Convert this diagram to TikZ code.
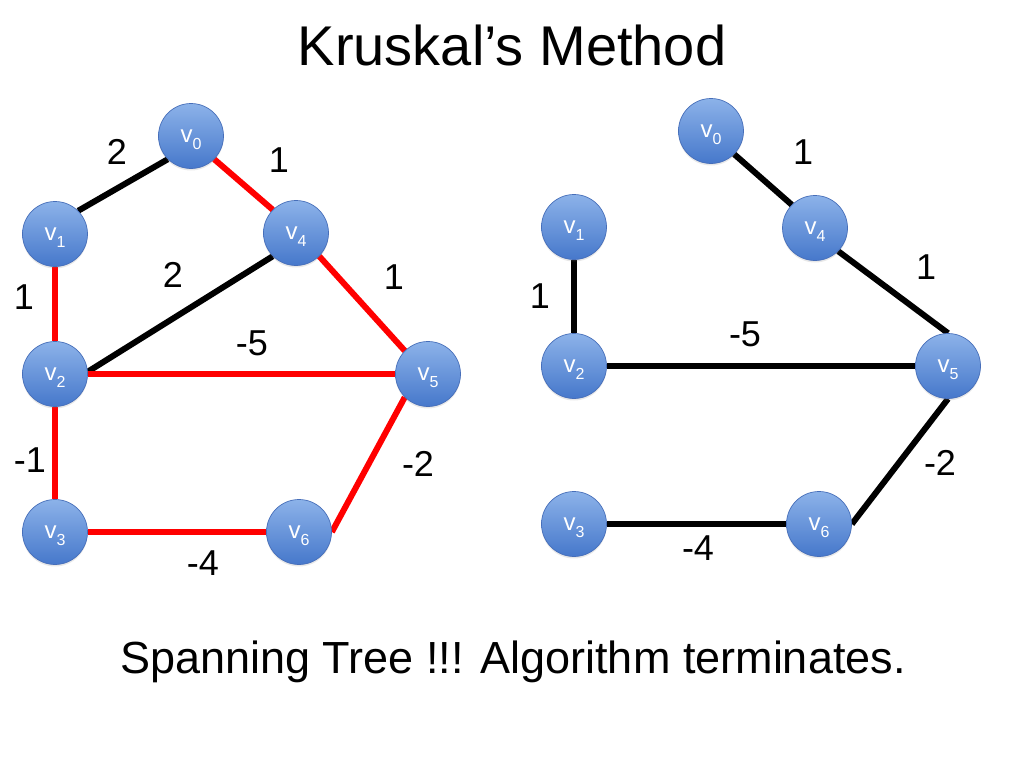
\documentclass[tikz,border=0pt]{standalone}
\usepackage{fontspec}
\setmainfont{Liberation Sans}
\usetikzlibrary{shadows,backgrounds}
\definecolor{nodetop}{RGB}{140,178,233}
\definecolor{nodebot}{RGB}{70,120,203}
\definecolor{nodeline}{RGB}{70,110,185}
\definecolor{edgered}{RGB}{255,0,0}
\newcommand\vsub[1]{v\raisebox{-7pt}{\fontsize{16}{16}\selectfont #1}}
\begin{document}
\begin{tikzpicture}[x=1pt,y=-1pt,
  vtx/.style={circle, minimum size=65pt, inner sep=0pt, draw=nodeline, line width=0.7pt,
    top color=nodetop, bottom color=nodebot, text=white, text depth=0pt,
    font=\fontsize{24}{24}\selectfont,
    drop shadow={opacity=0.18, shadow xshift=0pt, shadow yshift=-2pt}},
  blk/.style={line width=6pt, black},
  rde/.style={line width=6pt, edgered},
  wlab/.style={font=\fontsize{36}{36}\selectfont, inner sep=0pt},
  ttl/.style={font=\fontsize{56}{56}\selectfont, inner sep=0pt, anchor=base},
  captxt/.style={font=\fontsize{45}{45}\selectfont, inner sep=0pt, anchor=base}]
\useasboundingbox (0,0) rectangle (1024,768);

\node[ttl] (title) at (512,65) {Kruskal’s Method};
\node[captxt] (caption) at (513,673) {Spanning Tree !!! Algorithm terminates.};

% left graph
\node[vtx] (L0) at (191,136) {\vsub{0}};
\node[vtx] (L1) at (55,234) {\vsub{1}};
\node[vtx] (L4) at (296,233) {\vsub{4}};
\node[vtx] (L2) at (55,374) {\vsub{2}};
\node[vtx] (L5) at (428,374) {\vsub{5}};
\node[vtx] (L3) at (55,532) {\vsub{3}};
\node[vtx] (L6) at (299,532) {\vsub{6}};

% right graph
\node[vtx] (R0) at (711,131) {\vsub{0}};
\node[vtx] (R1) at (574,227) {\vsub{1}};
\node[vtx] (R4) at (815,228) {\vsub{4}};
\node[vtx] (R2) at (574,366) {\vsub{2}};
\node[vtx] (R5) at (948,366) {\vsub{5}};
\node[vtx] (R3) at (574,524) {\vsub{3}};
\node[vtx] (R6) at (819,524) {\vsub{6}};

\begin{pgfonlayer}{background}
\draw[blk] (L0.south west) -- (L1.north east);
\draw[rde] (L0.south east) -- (L4.north west);
\draw[rde] (L1.south) -- (L2.north);
\draw[blk] (L2.4) -- (L4.south west);
\draw[rde] (L2.east) -- (L5.west);
\draw[rde] (L4.south east) -- (L5.north west);
\draw[rde] (L2.south) -- (L3.north);
\draw[rde] (L3.east) -- (L6.west);
\draw[rde] (L6.east) -- (L5.south west);

\draw[blk] (R0.south east) -- (R4.north west);
\draw[blk] (R4.south east) -- (R5.north);
\draw[blk] (R1.south) -- (R2.north);
\draw[blk] (R2.east) -- (R5.west);
\draw[blk] (R3.east) -- (R6.west);
\draw[blk] (R6.east) -- (R5.south);
\end{pgfonlayer}

% left weights
\node[wlab] (wL01) at (117,152) {2};
\node[wlab] (wL04) at (279,160) {1};
\node[wlab] (wL12) at (24,297) {1};
\node[wlab] (wL24) at (173,275) {2};
\node[wlab] (wL45) at (394,277) {1};
\node[wlab] (wL25) at (252,343) {-5};
\node[wlab] (wL23) at (30,460) {-1};
\node[wlab] (wL56) at (418,464) {-2};
\node[wlab] (wL36) at (203,563) {-4};

% right weights
\node[wlab] (wR04) at (803,152) {1};
\node[wlab] (wR12) at (540,296) {1};
\node[wlab] (wR45) at (926,267) {1};
\node[wlab] (wR25) at (745,334) {-5};
\node[wlab] (wR56) at (940,463) {-2};
\node[wlab] (wR36) at (698,548) {-4};
\end{tikzpicture}
\end{document}
